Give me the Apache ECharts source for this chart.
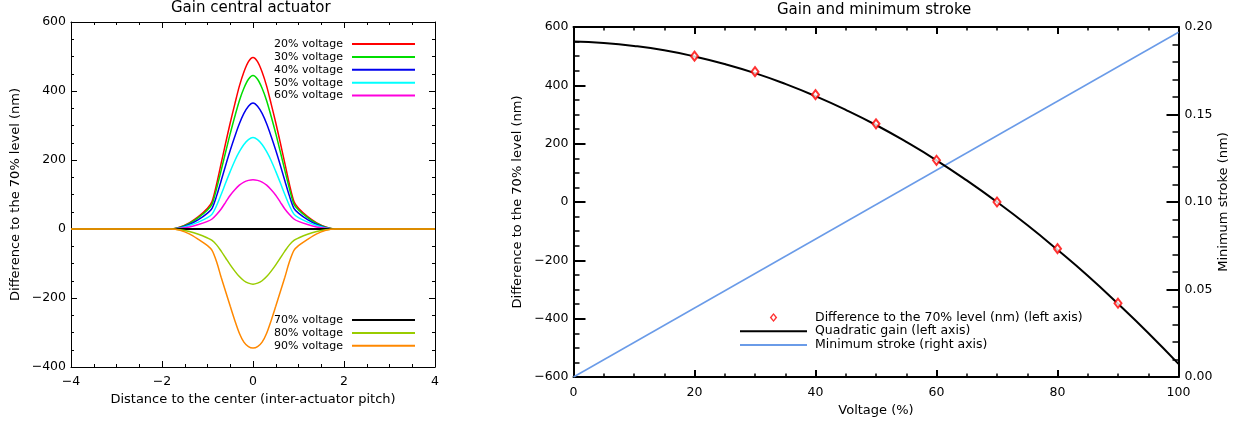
<!DOCTYPE html>
<html>
<head>
<meta charset="utf-8">
<script src="https://cdn.jsdelivr.net/npm/echarts@6/dist/echarts.min.js"></script>
<style>html,body{margin:0;padding:0;background:#fff;}#c{width:1238px;height:423px;}</style>
</head>
<body>
<div id="c"></div>
<script>
// ---- Left panel: gain of the central actuator ----
const distance = [-4,-3,-2.5,-2,-1.8,-1.6,-1.4,-1.2,-1,-0.9,-0.8,-0.7,-0.6,-0.5,-0.4,-0.3,-0.2,-0.1,0,0.1,0.2,0.3,0.4,0.5,0.6,0.7,0.8,0.9,1,1.2,1.4,1.6,1.8,2,2.5,3,4];
const v20 = [0,0,0,0,0,6,18,36,60,80,130,190,250,308,362,414,455,485,497,485,455,414,362,308,250,190,130,80,60,36,18,6,0,0,0,0,0];
const v30 = [0,0,0,0,0,5,16,33,55,72,117,170,224,277,326,372,408,434,445,434,408,372,326,277,224,170,117,72,55,33,16,5,0,0,0,0,0];
const v40 = [0,0,0,0,0,4,13,27,46,60,96,140,185,228,268,305,335,356,365,356,335,305,268,228,185,140,96,60,46,27,13,4,0,0,0,0,0];
const v50 = [0,0,0,0,0,3,10,20,33,43,68,100,134,167,198,224,245,259,265,259,245,224,198,167,134,100,68,43,33,20,10,3,0,0,0,0,0];
const v60 = [0,0,0,0,0,2,6,13,22,29,42,58,78,98,114,127,136,141,143,141,136,127,114,98,78,58,42,29,22,13,6,2,0,0,0,0,0];
const v70 = [0,0,0,0,0,0,0,0,0,0,0,0,0,0,0,0,0,0,0,0,0,0,0,0,0,0,0,0,0,0,0,0,0,0,0,0,0];
const v80 = [0,0,0,0,0,-2,-7,-15,-26,-33,-46,-64,-84,-104,-122,-138,-150,-157,-160,-157,-150,-138,-122,-104,-84,-64,-46,-33,-26,-15,-7,-2,0,0,0,0,0];
const v90 = [0,0,0,0,0,-4,-14,-30,-48,-62,-95,-140,-182,-224,-265,-302,-328,-341,-345,-341,-328,-302,-265,-224,-182,-140,-95,-62,-48,-30,-14,-4,0,0,0,0,0];
const leftNames = ['20% voltage','30% voltage','40% voltage','50% voltage','60% voltage','70% voltage','80% voltage','90% voltage'];
const leftColors = ['#ff0000','#00dd00','#0000ee','#00ffff','#ff00dd','#000000','#99cc00','#ff8800'];
const leftValues = [v20,v30,v40,v50,v60,v70,v80,v90];

// ---- Right panel: gain and minimum stroke ----
const voltagePts = [20,30,40,50,60,70,80,90];
const diffPts = [500,447,368,268,143,0,-160,-347];
const voltageFit = [0,5,10,15,20,25,30,35,40,45,50,55,60,65,70,75,80,85,90,95,100];
const quadFit = [550,545,535,520,499,473,442,405,363,316,264,206,143,74,0,-79,-164,-253,-349,-449,-555];
const voltageStroke = [0,100];
const strokeVals = [0,0.197];

const FONT = 'DejaVu Sans';
const minus = v => String(v).replace('-', '\u2212');
const pairs = (xs, ys) => xs.map((x, i) => [x, ys[i]]);
const lineOnly = n => ({name: n, itemStyle: {opacity: 0}});
const hollowDiamond = 'path://M5,0 L10,6 L5,12 L0,6 Z M5,2.6 L2.5,6 L5,9.4 L7.5,6 Z';

const chart = echarts.init(document.getElementById('c'), null, {renderer: 'canvas'});

const leftSeries = leftNames.map((n, i) => ({
  name: n, type: 'line', xAxisIndex: 0, yAxisIndex: 0,
  data: pairs(distance, leftValues[i]), symbol: 'none', smooth: 0.3,
  lineStyle: {color: leftColors[i], width: i === 5 ? 2 : 1.5},
  itemStyle: {color: leftColors[i]}, z: 2 + i
}));

function axisCommon(extra, lw, major, minor, labels) {
  return Object.assign({
    type: 'value', splitLine: {show: false},
    axisLine: {show: true, onZero: false, lineStyle: {color: '#000', width: lw}},
    axisTick: {show: true, inside: true, length: major, lineStyle: {color: '#000', width: lw}},
    minorTick: {show: true, length: minor, lineStyle: {color: '#000', width: lw}},
    axisLabel: {show: labels, color: '#000', fontFamily: FONT, fontSize: 12.5},
    nameTextStyle: {color: '#000', fontFamily: FONT, fontSize: 13}
  }, extra);
}
const lbl = (margin, fmt) => ({show: true, color: '#000', fontFamily: FONT, fontSize: 12.5, margin: margin, formatter: fmt});

const option = {
  animation: false,
  backgroundColor: '#fff',
  title: [
    {text: 'Gain central actuator', left: 171, top: 1, padding: 0,
     textStyle: {fontFamily: FONT, fontSize: 15, fontWeight: 'normal', color: '#000'}},
    {text: 'Gain and minimum stroke', left: 777, top: 3, padding: 0,
     textStyle: {fontFamily: FONT, fontSize: 15, fontWeight: 'normal', color: '#000'}}
  ],
  grid: [
    {left: 71, top: 22, width: 364, height: 345},
    {left: 573.5, top: 27, width: 605, height: 350}
  ],
  legend: [
    {data: leftNames.slice(0, 5).map(lineOnly), orient: 'vertical', align: 'right', right: 822, top: 38, padding: 0,
     itemWidth: 63, itemHeight: 10, itemGap: 0.9,
     textStyle: {fontFamily: FONT, fontSize: 11, color: '#000', lineHeight: 12, padding: [0, 4, 0, 0]}},
    {data: leftNames.slice(5).map(lineOnly), orient: 'vertical', align: 'right', right: 822, top: 314, padding: 0,
     itemWidth: 63, itemHeight: 10, itemGap: 0.9,
     textStyle: {fontFamily: FONT, fontSize: 11, color: '#000', lineHeight: 12, padding: [0, 4, 0, 0]}},
    {data: [{name: 'Difference to the 70% level (nm) (left axis)', icon: hollowDiamond,
             itemStyle: {color: '#ff0000', borderWidth: 0}},
            lineOnly('Quadratic gain (left axis)'), lineOnly('Minimum stroke (right axis)')],
     orient: 'vertical', align: 'left', left: 739, top: 311, padding: 0, symbolKeepAspect: true,
     itemWidth: 67, itemHeight: 9, itemGap: 0.7,
     textStyle: {fontFamily: FONT, fontSize: 12.5, color: '#000', lineHeight: 13, padding: [0, 0, 0, 3]}}
  ],
  xAxis: [
    axisCommon({gridIndex: 0, position: 'bottom', min: -4, max: 4, interval: 2,
      minorTick: {show: true, splitNumber: 4, length: 3, lineStyle: {color: '#000', width: 1}},
      axisLabel: lbl(8, minus),
      name: 'Distance to the center (inter-actuator pitch)', nameLocation: 'middle', nameGap: 25}, 1, 6, 3, true),
    axisCommon({gridIndex: 0, position: 'top', min: -4, max: 4, interval: 2,
      minorTick: {show: true, splitNumber: 4, length: 3, lineStyle: {color: '#000', width: 1}}}, 1, 6, 3, false),
    axisCommon({gridIndex: 1, position: 'bottom', min: 0, max: 100, interval: 20,
      minorTick: {show: true, splitNumber: 4, length: 3.5, lineStyle: {color: '#000', width: 1.5}},
      axisLabel: lbl(9),
      name: 'Voltage (%)', nameLocation: 'middle', nameGap: 25.5}, 2, 7, 3.5, true),
    axisCommon({gridIndex: 1, position: 'top', min: 0, max: 100, interval: 20,
      minorTick: {show: true, splitNumber: 4, length: 3.5, lineStyle: {color: '#000', width: 1.5}}}, 2, 7, 3.5, false)
  ],
  yAxis: [
    axisCommon({gridIndex: 0, position: 'left', min: -400, max: 600, interval: 200,
      minorTick: {show: true, splitNumber: 4, length: 3, lineStyle: {color: '#000', width: 1}},
      axisLabel: lbl(5, minus),
      name: 'Difference to the 70% level (nm)', nameLocation: 'middle', nameGap: 48.5, nameRotate: 90}, 1, 6, 3, true),
    axisCommon({gridIndex: 0, position: 'right', min: -400, max: 600, interval: 200,
      minorTick: {show: true, splitNumber: 4, length: 3, lineStyle: {color: '#000', width: 1}}}, 1, 6, 3, false),
    axisCommon({gridIndex: 1, position: 'left', min: -600, max: 600, interval: 200,
      minorTick: {show: true, splitNumber: 4, length: 6, lineStyle: {color: '#000', width: 1.5}},
      axisLabel: lbl(5, minus),
      name: 'Difference to the 70% level (nm)', nameLocation: 'middle', nameGap: 49.5, nameRotate: 90}, 2, 12, 6, true),
    axisCommon({gridIndex: 1, position: 'right', min: 0, max: 0.2, interval: 0.05,
      minorTick: {show: true, splitNumber: 5, length: 6, lineStyle: {color: '#000', width: 1.5}},
      axisLabel: lbl(6, v => v.toFixed(2)),
      name: 'Minimum stroke (nm)', nameLocation: 'middle', nameGap: 39, nameRotate: 90}, 2, 12, 6, true)
  ],
  series: leftSeries.concat([
    {name: 'Minimum stroke (right axis)', type: 'line', xAxisIndex: 2, yAxisIndex: 3,
     data: pairs(voltageStroke, strokeVals), symbol: 'none',
     lineStyle: {color: '#6a9be8', width: 1.5}, itemStyle: {color: '#6a9be8'}, z: 2},
    {name: 'Quadratic gain (left axis)', type: 'line', xAxisIndex: 2, yAxisIndex: 2,
     data: pairs(voltageFit, quadFit), symbol: 'none', smooth: true,
     lineStyle: {color: '#000', width: 2}, itemStyle: {color: '#000'}, z: 3},
    {name: 'Difference to the 70% level (nm) (left axis)', type: 'scatter', xAxisIndex: 2, yAxisIndex: 2,
     data: pairs(voltagePts, diffPts), symbol: 'emptyDiamond', symbolSize: [7, 9],
     itemStyle: {color: '#ff0000', borderColor: '#ff0000', borderWidth: 1.6}, z: 4}
  ])
};
chart.setOption(option);
</script>
</body>
</html>
